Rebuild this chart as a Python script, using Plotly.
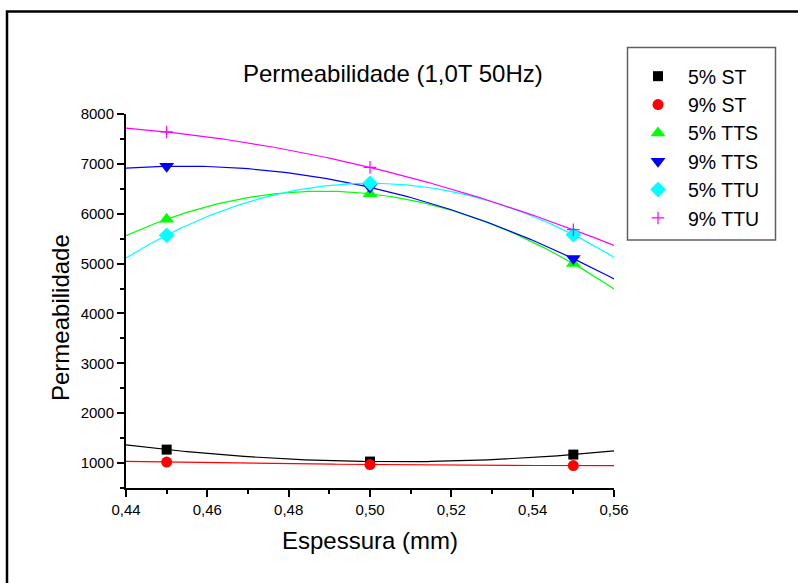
import numpy as np
import plotly.graph_objects as go

# Espessura da chapa (mm)
espessura = [0.45, 0.50, 0.55]

# Permeabilidade medida a 1,0 T / 50 Hz
st_5 = [1270, 1030, 1170]
st_9 = [1020, 970, 950]
tts_5 = [5890, 6400, 5000]
tts_9 = [6950, 6530, 5100]
ttu_5 = [5570, 6610, 5580]
ttu_9 = [7640, 6930, 5680]

series_names = ["5% ST", "9% ST", "5% TTS", "9% TTS", "5% TTU", "9% TTU"]
series_values = [st_5, st_9, tts_5, tts_9, ttu_5, ttu_9]
colors = ["#000000", "#FF0000", "#00FF00", "#0000FF", "#00FFFF", "#FF00FF"]
symbols = ["square", "circle", "triangle-up", "triangle-down", "diamond", "cross-thin"]
sizes = [10, 11, 13, 13, 12, 9]

x_tick_vals = [0.44, 0.46, 0.48, 0.50, 0.52, 0.54, 0.56]
x_tick_text = ["0,44", "0,46", "0,48", "0,50", "0,52", "0,54", "0,56"]
y_tick_vals = [1000, 2000, 3000, 4000, 5000, 6000, 7000, 8000]

FONT = "Arial, Liberation Sans, sans-serif"

fig = go.Figure()

# polynomial (2nd order) fit curves across the full axis range
x_fit = np.linspace(0.44, 0.56, 121)
for vals, col in zip(series_values, colors):
    coef = np.polyfit(espessura, vals, 2)
    fig.add_trace(go.Scatter(
        x=x_fit, y=np.polyval(coef, x_fit), mode="lines",
        line=dict(color=col, width=1.2), showlegend=False, hoverinfo="skip"))

# measured points
for name, vals, col, sym, sz in zip(series_names, series_values, colors, symbols, sizes):
    marker = dict(color=col, symbol=sym, size=sz)
    if sym == "cross-thin":
        marker["line"] = dict(color=col, width=1.2)
    else:
        marker["line"] = dict(width=0)
    fig.add_trace(go.Scatter(x=espessura, y=vals, mode="markers", name=name, marker=marker))

L, R, T, B = 126, 184, 114, 95
W, H = 798, 583
pw, ph = W - L - R, H - T - B


def px(xp):
    return (xp - L) / pw


def py(yp):
    return (H - B - yp) / ph


axis_common = dict(
    showline=True, linecolor="black", linewidth=2,
    ticks="outside", ticklen=7, tickwidth=1.5, tickcolor="black",
    showgrid=False, zeroline=False, mirror=False,
    tickfont=dict(family=FONT, size=15, color="black"),
)

fig.update_xaxes(
    range=[0.44, 0.56], tickvals=x_tick_vals, ticktext=x_tick_text,
    minor=dict(ticks="outside", ticklen=4, tickwidth=1.5, tickcolor="black", dtick=0.01, tick0=0.44),
    **axis_common)
fig.update_yaxes(
    range=[500, 8000], tickvals=y_tick_vals,
    minor=dict(ticks="outside", ticklen=4, tickwidth=1.5, tickcolor="black", dtick=500, tick0=500),
    **axis_common)

annotations = [
    dict(text="Permeabilidade (1,0T 50Hz)", x=px(393), y=py(73), xref="paper", yref="paper",
         showarrow=False, xanchor="center", yanchor="middle",
         font=dict(family=FONT, size=24, color="black")),
    dict(text="Espessura (mm)", x=px(370), y=py(540), xref="paper", yref="paper",
         showarrow=False, xanchor="center", yanchor="middle",
         font=dict(family=FONT, size=24, color="black")),
    dict(text="Permeabilidade", x=px(60), y=py(318), xref="paper", yref="paper",
         showarrow=False, xanchor="center", yanchor="middle", textangle=-90,
         font=dict(family=FONT, size=24, color="black")),
]

shapes = [
    # outer frame of the page
    dict(type="rect", xref="paper", yref="paper", x0=px(7), y0=py(700), x1=px(900), y1=py(11.5),
         line=dict(color="black", width=2.5), fillcolor="rgba(0,0,0,0)", layer="below"),
    # legend box
    dict(type="rect", xref="paper", yref="paper", x0=px(627.5), y0=py(240), x1=px(775.5), y1=py(47.5),
         line=dict(color="#606060", width=1.5), fillcolor="rgba(0,0,0,0)"),
]

fig.update_layout(
    width=W, height=H,
    margin=dict(l=L, r=R, t=T, b=B),
    paper_bgcolor="white", plot_bgcolor="white",
    annotations=annotations, shapes=shapes,
    legend=dict(x=px(628), y=py(57), xanchor="left", yanchor="top",
                bgcolor="rgba(0,0,0,0)", borderwidth=0,
                font=dict(family=FONT, size=19.5, color="black"),
                itemwidth=50, tracegroupgap=0),
    font=dict(family=FONT),
)

fig.write_html("out.html")
